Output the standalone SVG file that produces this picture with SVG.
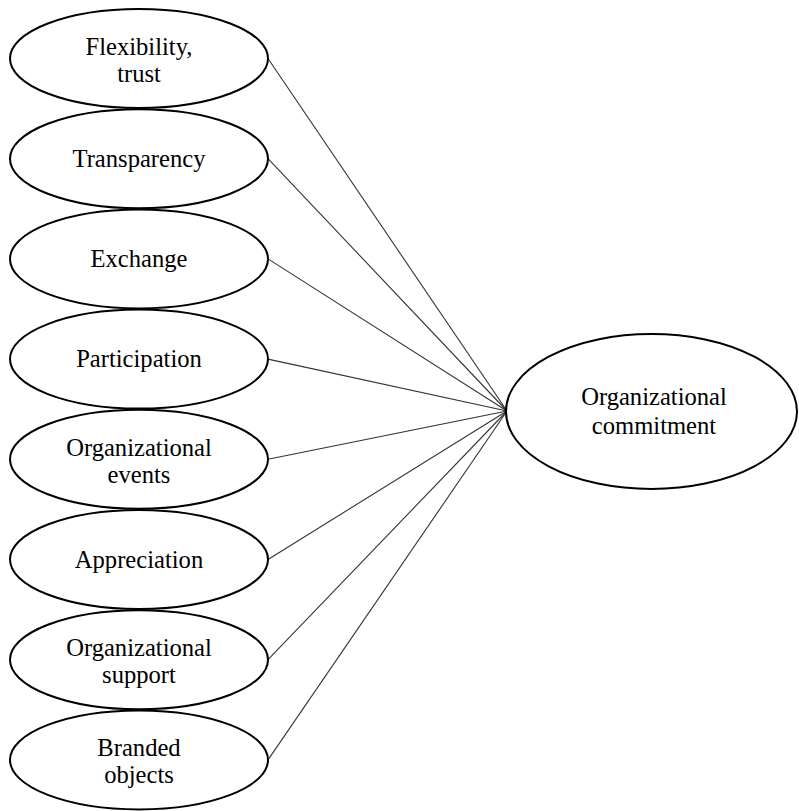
<svg xmlns="http://www.w3.org/2000/svg" width="799" height="811" viewBox="0 0 799 811">
<style>
.n{fill:#fff;stroke:#000;stroke-width:2}
.t{font-family:"Liberation Serif","Times New Roman",serif;font-size:24.6px;fill:#000;text-anchor:middle}
.c line{stroke:#333;stroke-width:1.1}
</style>
<rect width="799" height="811" fill="#fff"/>
<g class="c" id="connectors">
<line x1="268" y1="58.5" x2="507" y2="411"/>
<line x1="268" y1="158.7" x2="507" y2="411"/>
<line x1="268" y1="258.9" x2="507" y2="411"/>
<line x1="268" y1="359.1" x2="507" y2="411"/>
<line x1="268" y1="459.3" x2="507" y2="411"/>
<line x1="268" y1="559.5" x2="507" y2="411"/>
<line x1="268" y1="659.7" x2="507" y2="411"/>
<line x1="268" y1="759.9" x2="507" y2="411"/>
</g>
<g id="flexibility"><ellipse class="n" cx="139" cy="58.5" rx="129" ry="49.5"/><text class="t" x="139" y="55">Flexibility,</text><text class="t" x="139" y="82">trust</text></g>
<g id="transparency"><ellipse class="n" cx="139" cy="158.7" rx="129" ry="49.5"/><text class="t" x="139" y="167">Transparency</text></g>
<g id="exchange"><ellipse class="n" cx="139" cy="258.9" rx="129" ry="49.5"/><text class="t" x="139" y="267">Exchange</text></g>
<g id="participation"><ellipse class="n" cx="139" cy="359.1" rx="129" ry="49.5"/><text class="t" x="139" y="367">Participation</text></g>
<g id="events"><ellipse class="n" cx="139" cy="459.3" rx="129" ry="49.5"/><text class="t" x="139" y="456">Organizational</text><text class="t" x="139" y="483">events</text></g>
<g id="appreciation"><ellipse class="n" cx="139" cy="559.5" rx="129" ry="49.5"/><text class="t" x="139" y="567.5">Appreciation</text></g>
<g id="support"><ellipse class="n" cx="139" cy="659.7" rx="129" ry="49.5"/><text class="t" x="139" y="656">Organizational</text><text class="t" x="139" y="683">support</text></g>
<g id="branded"><ellipse class="n" cx="139" cy="759.9" rx="129" ry="49.5"/><text class="t" x="139" y="756">Branded</text><text class="t" x="139" y="783">objects</text></g>
<g id="commitment"><ellipse class="n" cx="651.5" cy="411.5" rx="145.5" ry="77.5"/><text class="t" x="654" y="405">Organizational</text><text class="t" x="654" y="434">commitment</text></g>
</svg>
